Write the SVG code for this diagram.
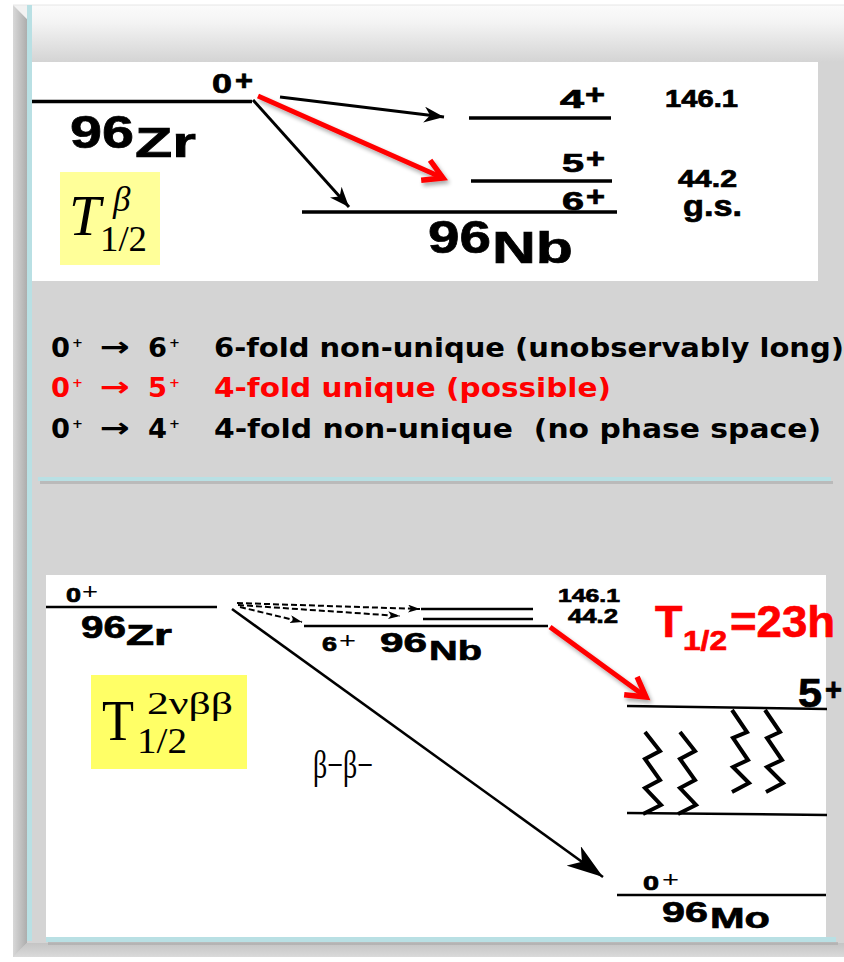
<svg xmlns="http://www.w3.org/2000/svg" width="844" height="962" viewBox="0 0 844 962">
<defs>
<linearGradient id="topBevel" x1="0" y1="0" x2="0" y2="1">
<stop offset="0" stop-color="#fbfbfb"/><stop offset="0.3" stop-color="#f4f4f4"/><stop offset="1" stop-color="#d4d4d4"/>
</linearGradient>
<linearGradient id="leftBevel" x1="0" y1="0" x2="1" y2="0">
<stop offset="0" stop-color="#d8d8d8"/><stop offset="1" stop-color="#adadad"/>
</linearGradient>
<linearGradient id="botBevel" x1="0" y1="0" x2="0" y2="1">
<stop offset="0" stop-color="#c4c4c4"/><stop offset="1" stop-color="#dadada"/>
</linearGradient>
<marker id="hb" markerWidth="20" markerHeight="16" refX="20" refY="8" orient="auto" markerUnits="userSpaceOnUse">
<path d="M0,0 L20,8 L0,16 L6,8 z" fill="#000"/>
</marker>
<marker id="hbig" markerWidth="36" markerHeight="24" refX="36" refY="12" orient="auto" markerUnits="userSpaceOnUse">
<path d="M0,0 L36,12 L0,24 L10,12 z" fill="#000"/>
</marker>
<marker id="hdash" markerWidth="12" markerHeight="8" refX="12" refY="4" orient="auto" markerUnits="userSpaceOnUse">
<path d="M0,0 L12,4 L0,8 L3,4 z" fill="#000"/>
</marker>
<marker id="hred" markerWidth="28" markerHeight="28" refX="22" refY="14" orient="auto" markerUnits="userSpaceOnUse">
<path d="M3,3 L22,14 L3,25" fill="none" stroke="#ff0000" stroke-width="5.5" stroke-linejoin="miter"/>
</marker>
<filter id="sh" x="-10%" y="-10%" width="130%" height="130%">
<feGaussianBlur in="SourceAlpha" stdDeviation="2"/><feOffset dx="2" dy="3"/>
<feComponentTransfer><feFuncA type="linear" slope="0.35"/></feComponentTransfer>
<feMerge><feMergeNode/><feMergeNode in="SourceGraphic"/></feMerge>
</filter>
</defs>
<style>
.lvl{stroke:#000;stroke-width:3.5;fill:none}
.lvl2{stroke:#000;stroke-width:2.5;fill:none}
.b{font-family:"Liberation Sans",Arial,sans-serif;font-weight:bold;fill:#000;stroke:#000;stroke-width:0.7}
.r{font-family:"Liberation Sans",Arial,sans-serif;font-weight:normal;fill:#000}
.tm{font-family:"Liberation Serif","Times New Roman",serif;fill:#000}
.cs{font-family:"DejaVu Sans",sans-serif;font-weight:bold;font-size:27px}
.arr{stroke:#000;stroke-width:3;fill:none}
.zig{stroke:#000;stroke-width:4;fill:none;stroke-linejoin:miter}
.dash{stroke:#000;stroke-width:2;stroke-dasharray:6 3;fill:none}
.red{stroke:#ff0000;stroke-width:5;fill:none}
.rt{fill:#ff0000;stroke:#ff0000}
</style>
<rect width="844" height="962" fill="#ffffff"/>
<g id="frame">
<rect x="13" y="5" width="831" height="952" fill="#d4d4d4"/>
<rect x="27" y="5" width="817" height="57" fill="url(#topBevel)"/>
<polygon points="13,5 27,19 27,943 13,957" fill="url(#leftBevel)"/>
<polygon points="13,5 27,5 27,19" fill="#f2f2f2"/>
<polygon points="13,957 27,943 844,943 844,957" fill="url(#botBevel)"/>
<line x1="13" y1="5" x2="844" y2="5" stroke="#e6e6e6" stroke-width="1"/>
<rect x="27" y="5" width="5" height="936" fill="#b9e0e4"/>
</g>
<g id="panel-top">
<rect x="32" y="62" width="786" height="219" fill="#ffffff"/>
</g>
<g id="separator">
<rect x="40" y="481" width="793" height="3" fill="#a8a8a8" opacity="0.6"/>
<rect x="38" y="477" width="793" height="4" fill="#b9e0e4"/>
</g>
<g id="panel-bottom">
<rect x="46" y="575" width="780" height="362" fill="#ffffff"/>
<rect x="48" y="942" width="790" height="3" fill="#a8a8a8" opacity="0.6"/>
<rect x="46" y="937" width="790" height="5" fill="#b9e0e4"/>
</g>
<g id="zr96-top">
<line class="lvl" x1="32" y1="101.5" x2="252" y2="101.5"/>
<text class="b" x="212" y="93" font-size="28" textLength="20" lengthAdjust="spacingAndGlyphs">0</text>
<text class="b" x="235" y="90" font-size="28" textLength="18" lengthAdjust="spacingAndGlyphs">+</text>
<text class="b" x="70" y="148" font-size="46" textLength="64" lengthAdjust="spacingAndGlyphs">96</text>
<text class="b" x="135" y="157" font-size="42" textLength="61" lengthAdjust="spacingAndGlyphs">Zr</text>
</g>
<g id="t-beta">
<rect x="60" y="172" width="100" height="93" fill="#ffff99"/>
<text class="tm" x="69" y="235" font-size="57" font-style="italic">T</text>
<text class="tm" x="113" y="211" font-size="35" font-style="italic">β</text>
<text class="tm" x="100" y="251" font-size="36" textLength="47" lengthAdjust="spacingAndGlyphs">1/2</text>
</g>
<g id="nb96-top">
<line class="lvl" x1="469" y1="118" x2="611" y2="118"/>
<line class="lvl" x1="471" y1="181" x2="612" y2="181"/>
<line class="lvl" x1="302" y1="212" x2="617" y2="212"/>
<text class="b" x="560" y="108" font-size="25" textLength="24" lengthAdjust="spacingAndGlyphs">4</text>
<text class="b" x="585" y="104" font-size="27" textLength="20" lengthAdjust="spacingAndGlyphs">+</text>
<text class="b" x="562" y="172" font-size="25" textLength="22" lengthAdjust="spacingAndGlyphs">5</text>
<text class="b" x="586" y="168" font-size="27" textLength="19" lengthAdjust="spacingAndGlyphs">+</text>
<text class="b" x="562" y="210" font-size="25" textLength="22" lengthAdjust="spacingAndGlyphs">6</text>
<text class="b" x="586" y="206" font-size="27" textLength="19" lengthAdjust="spacingAndGlyphs">+</text>
<text class="b" x="665" y="107" font-size="23" textLength="73" lengthAdjust="spacingAndGlyphs">146.1</text>
<text class="b" x="678" y="187" font-size="24" textLength="59" lengthAdjust="spacingAndGlyphs">44.2</text>
<text class="b" x="683" y="216" font-size="29" textLength="59" lengthAdjust="spacingAndGlyphs">g.s.</text>
<text class="b" x="428" y="253" font-size="46" textLength="63" lengthAdjust="spacingAndGlyphs">96</text>
<text class="b" x="492" y="263" font-size="45" textLength="81" lengthAdjust="spacingAndGlyphs">Nb</text>
</g>
<g id="connectors-top">
<line class="arr" x1="280" y1="97" x2="444" y2="117" marker-end="url(#hb)"/>
<line class="arr" x1="253" y1="100" x2="349" y2="207" marker-end="url(#hb)"/>
<g filter="url(#sh)">
<line class="red" x1="258" y1="96" x2="443" y2="178" marker-end="url(#hred)"/>
</g>
</g>
<g id="transitions">
<text class="cs" x="51" y="357" textLength="19" lengthAdjust="spacingAndGlyphs">0</text>
<text class="cs" x="72" y="347" style="font-size:13px">+</text>
<text class="cs" x="100" y="356" textLength="30" lengthAdjust="spacingAndGlyphs">→</text>
<text class="cs" x="148" y="357" textLength="19" lengthAdjust="spacingAndGlyphs">6</text>
<text class="cs" x="169" y="347" style="font-size:13px">+</text>
<text class="cs" x="214" y="357" textLength="630" lengthAdjust="spacingAndGlyphs">6-fold non-unique (unobservably long)</text>
<text class="cs" x="51" y="397" textLength="19" lengthAdjust="spacingAndGlyphs" style="fill:#ff0000">0</text>
<text class="cs" x="72" y="387" style="font-size:13px;fill:#ff0000">+</text>
<text class="cs" x="100" y="396" textLength="30" lengthAdjust="spacingAndGlyphs" style="fill:#ff0000">→</text>
<text class="cs" x="148" y="397" textLength="19" lengthAdjust="spacingAndGlyphs" style="fill:#ff0000">5</text>
<text class="cs" x="169" y="387" style="font-size:13px;fill:#ff0000">+</text>
<text class="cs" x="214" y="397" textLength="397" lengthAdjust="spacingAndGlyphs" style="fill:#ff0000">4-fold unique (possible)</text>
<text class="cs" x="51" y="438" textLength="19" lengthAdjust="spacingAndGlyphs">0</text>
<text class="cs" x="72" y="428" style="font-size:13px">+</text>
<text class="cs" x="100" y="437" textLength="30" lengthAdjust="spacingAndGlyphs">→</text>
<text class="cs" x="148" y="438" textLength="19" lengthAdjust="spacingAndGlyphs">4</text>
<text class="cs" x="169" y="428" style="font-size:13px">+</text>
<text class="cs" x="214" y="438" textLength="607" lengthAdjust="spacingAndGlyphs" xml:space="preserve">4-fold non-unique  (no phase space)</text>
</g>
<g id="zr96-bottom">
<line class="lvl2" x1="46" y1="607" x2="217" y2="607"/>
<text class="b" x="66" y="602" font-size="20" textLength="15" lengthAdjust="spacingAndGlyphs">0</text>
<text class="r" x="82" y="599" font-size="22" textLength="16" lengthAdjust="spacingAndGlyphs">+</text>
<text class="b" x="81" y="638" font-size="32" textLength="45" lengthAdjust="spacingAndGlyphs">96</text>
<text class="b" x="126" y="645" font-size="30" textLength="46" lengthAdjust="spacingAndGlyphs">Zr</text>
</g>
<g id="nb96-bottom">
<line class="lvl2" x1="421" y1="609" x2="533" y2="609"/>
<line class="lvl2" x1="423" y1="619" x2="533" y2="619"/>
<line class="lvl2" x1="304" y1="626" x2="548" y2="626"/>
<text class="b" x="322" y="651" font-size="20" textLength="15" lengthAdjust="spacingAndGlyphs">6</text>
<text class="r" x="339" y="648" font-size="22" textLength="17" lengthAdjust="spacingAndGlyphs">+</text>
<text class="b" x="380" y="652" font-size="28" textLength="47" lengthAdjust="spacingAndGlyphs">96</text>
<text class="b" x="429" y="660" font-size="28" textLength="53" lengthAdjust="spacingAndGlyphs">Nb</text>
<text class="b" x="558" y="602" font-size="19" textLength="62" lengthAdjust="spacingAndGlyphs">146.1</text>
<text class="b" x="568" y="623" font-size="20" textLength="50" lengthAdjust="spacingAndGlyphs">44.2</text>
</g>
<g id="t-2vbb">
<rect x="91" y="675" width="156" height="94" fill="#ffff66"/>
<text class="tm" x="102" y="740" font-size="58" textLength="32" lengthAdjust="spacingAndGlyphs">T</text>
<text class="tm" x="147" y="714" font-size="31" textLength="86" lengthAdjust="spacingAndGlyphs">2νββ</text>
<text class="tm" x="137" y="753" font-size="36" textLength="50" lengthAdjust="spacingAndGlyphs">1/2</text>
</g>
<g id="halflife">
<text class="b rt" x="655" y="637" font-size="45">T</text>
<text class="b rt" x="683" y="650" font-size="28" textLength="44" lengthAdjust="spacingAndGlyphs">1/2</text>
<text class="b rt" x="730" y="637" font-size="45" textLength="105" lengthAdjust="spacingAndGlyphs">=23h</text>
</g>
<g id="mo96-5plus">
<line class="lvl2" x1="627" y1="706" x2="827" y2="709"/>
<line class="lvl2" x1="627" y1="813" x2="827" y2="815"/>
<text class="b" x="798" y="707" font-size="40" textLength="24" lengthAdjust="spacingAndGlyphs">5</text>
<text class="b" x="825" y="700" font-size="31" textLength="17" lengthAdjust="spacingAndGlyphs">+</text>
<polyline class="zig" points="645,732 660,751 645,759 660,780 645,788 661,805 643,814"/>
<polyline class="zig" points="680,732 695,751 680,759 695,780 680,788 696,805 678,814"/>
<polyline class="zig" points="732,710 747,732 733,738 748,760 733,767 749,783 732,792"/>
<polyline class="zig" points="765,710 780,732 767,738 782,760 767,767 783,783 766,792"/>
</g>
<g id="mo96">
<line class="lvl2" x1="617" y1="895" x2="826" y2="895"/>
<text class="b" x="643" y="890" font-size="20" textLength="16" lengthAdjust="spacingAndGlyphs">0</text>
<text class="r" x="662" y="887" font-size="22" textLength="17" lengthAdjust="spacingAndGlyphs">+</text>
<text class="b" x="662" y="922" font-size="30" textLength="46" lengthAdjust="spacingAndGlyphs">96</text>
<text class="b" x="710" y="928" font-size="30" textLength="60" lengthAdjust="spacingAndGlyphs">Mo</text>
</g>
<g id="connectors-bottom">
<line class="dash" x1="237" y1="603" x2="420" y2="609" marker-end="url(#hdash)"/>
<line class="dash" x1="238" y1="605" x2="400" y2="616" marker-end="url(#hdash)"/>
<line class="dash" x1="240" y1="607" x2="302" y2="622" marker-end="url(#hdash)"/>
<line stroke="#000" stroke-width="2.5" x1="232" y1="609" x2="603" y2="877" marker-end="url(#hbig)"/>
<text class="tm" x="313" y="778" font-size="40" textLength="60" lengthAdjust="spacingAndGlyphs">β−β−</text>
<g filter="url(#sh)">
<line class="red" x1="550" y1="627" x2="646" y2="697" marker-end="url(#hred)"/>
</g>
</g>
</svg>
